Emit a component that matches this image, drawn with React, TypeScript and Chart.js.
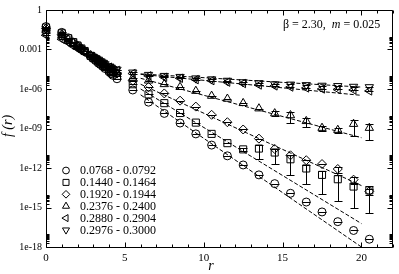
import React, { useEffect, useRef } from 'react';
import { Chart, registerables } from 'chart.js';
import { drawPoint } from 'chart.js/helpers';

Chart.register(...registerables);

// ---- data ----
const R_NEAR = [0, 1, 1.41, 1.73, 2, 2.24, 2.45, 2.83, 3, 3.16, 3.32, 3.46, 3.61, 3.74, 4, 4.12, 4.24, 4.5];
const R_FAR = [5.5, 6.5, 7.5, 8.5, 9.5, 10.5, 11.5, 12.5, 13.5, 14.5, 15.5, 16.5, 17.5, 18.5, 19.5, 20.5];

const C_NEAR = [5.5e-2, 2.0e-2, 7.7e-3, 3.6e-3, 2.0e-3, 1.1e-3, 7.1e-4, 3.0e-4, 2.0e-4, 1.4e-4, 9.2e-5, 7.1e-5, 5.1e-5, 3.6e-5, 2.0e-5, 1.5e-5, 1.1e-5, 6.0e-6];
const C_FAR = [8.4e-7, 1.0e-7, 1.4e-8, 2.6e-9, 3.9e-10, 5.5e-11, 8.4e-12, 1.7e-12, 3.0e-13, 6.5e-14, 1.2e-14, 2.6e-15, 4.6e-16, 8.4e-17, 1.8e-17, 3.9e-18];
const C_ERR = [0, 0, 0, 0, 0, 0, 0, 0, 0, 0, 0, 0, 0, 0, 0, 0];

const S_NEAR = [4.6e-2, 1.7e-2, 7.1e-3, 3.6e-3, 2.0e-3, 1.2e-3, 7.7e-4, 3.3e-4, 2.3e-4, 1.7e-4, 1.2e-4, 8.4e-5, 6.0e-5, 4.6e-5, 2.6e-5, 2.0e-5, 1.5e-5, 1.0e-5];
const S_FAR = [2.3e-6, 3.9e-7, 8.4e-8, 1.5e-8, 2.8e-9, 3.9e-10, 7.7e-11, 2.6e-11, 3.0e-11, 1.5e-11, 4.6e-12, 9.2e-13, 3.0e-13, 1.4e-13, 3.9e-14, 2.0e-14];
const S_ERR = [0, 0, 0, 0, 0, 0, 0, 5e-12, 2.5e-11, 1.3e-11, 4.3e-12, 8.6e-13, 2.9e-13, 1.37e-13, 3.8e-14, 1.96e-14];

const D_NEAR = [3.9e-2, 1.4e-2, 6.0e-3, 3.3e-3, 1.8e-3, 1.2e-3, 7.7e-4, 3.6e-4, 2.6e-4, 1.8e-4, 1.3e-4, 1.0e-4, 7.1e-5, 5.5e-5, 3.3e-5, 2.6e-5, 2.0e-5, 1.5e-5];
const D_FAR = [4.3e-6, 1.4e-6, 4.6e-7, 1.3e-7, 4.6e-8, 1.1e-8, 3.0e-9, 8.4e-10, 1.7e-10, 2.8e-11, 9.2e-12, 3.9e-12, 2.0e-12, 8.4e-13, 1.3e-13, 1.7e-14];
const D_ERR = [0, 0, 0, 0, 0, 0, 0, 0, 0, 0, 0, 0, 0, 4.2e-13, 6.5e-14, 8.5e-15];

const T_NEAR = [2.8e-2, 1.2e-2, 5.5e-3, 3.0e-3, 1.8e-3, 1.2e-3, 7.7e-4, 3.6e-4, 2.6e-4, 2.0e-4, 1.4e-4, 1.1e-4, 8.4e-5, 6.5e-5, 3.9e-5, 3.0e-5, 2.6e-5, 2.0e-5];
const T_FAR = [7.1e-6, 4.3e-6, 2.3e-6, 1.4e-6, 7.1e-7, 3.0e-7, 1.8e-7, 8.4e-8, 3.3e-8, 1.4e-8, 1.0e-8, 3.6e-9, 1.1e-9, 7.7e-10, 2.2e-9, 1.1e-9];
const T_ERR = [0, 0, 0, 0, 0, 0, 0, 0, 0, 5.6e-9, 7.4e-9, 2.3e-9, 4.5e-10, 3.1e-10, 1.92e-9, 9.6e-10];

const L_NEAR = [1.2e-2, 6.0e-3, 3.3e-3, 1.8e-3, 1.2e-3, 7.7e-4, 5.5e-4, 3.0e-4, 2.3e-4, 1.8e-4, 1.4e-4, 1.1e-4, 8.4e-5, 7.1e-5, 4.6e-5, 3.9e-5, 3.0e-5, 2.6e-5];
const L_FAR = [1.5e-5, 1.0e-5, 7.7e-6, 6.5e-6, 5.1e-6, 4.3e-6, 3.3e-6, 2.6e-6, 2.0e-6, 1.7e-6, 1.4e-6, 1.2e-6, 1.0e-6, 9.2e-7, 8.4e-7, 7.1e-7];
const L_ERR = [0, 0, 0, 0, 0, 0, 0, 0, 0, 0, 0, 0, 0, 0, 0, 0];

const V_NEAR = [1.7e-2, 8.4e-3, 4.3e-3, 2.3e-3, 1.5e-3, 1.0e-3, 7.1e-4, 3.9e-4, 2.8e-4, 2.2e-4, 1.7e-4, 1.3e-4, 1.0e-4, 7.7e-5, 5.1e-5, 4.3e-5, 3.3e-5, 3.0e-5];
const V_FAR = [1.8e-5, 1.2e-5, 1.0e-5, 8.4e-6, 6.5e-6, 5.5e-6, 4.3e-6, 3.3e-6, 2.8e-6, 2.3e-6, 2.2e-6, 2.0e-6, 1.8e-6, 1.7e-6, 1.5e-6, 1.4e-6];
const V_ERR = [0, 0, 0, 0, 0, 0, 0, 0, 0, 0, 0, 0, 0, 0, 0, 0];

const FIT_R = [6, 20];
const FIT_C = [3.6e-7, 1.0e-18];
const FIT_S = [1.0e-6, 6.0e-17];
const FIT_D = [2.3e-6, 4.6e-14];
const FIT_T = [6.5e-6, 2.0e-10];
const FIT_L = [1.3e-5, 3.3e-7];
const FIT_V = [1.4e-5, 1.4e-6];

const LEGEND_LABELS = [
  '0.0768 - 0.0792',
  '0.1440 - 0.1464',
  '0.1920 - 0.1944',
  '0.2376 - 0.2400',
  '0.2880 - 0.2904',
  '0.2976 - 0.3000',
];

const X_TICKS = [0, 5, 10, 15, 20];
const Y_TICKS = [1e-18, 1e-15, 1e-12, 1e-9, 1e-6, 1e-3, 1];
const Y_TICK_LABELS = ['1e-18', '1e-15', '1e-12', '1e-09', '1e-06', '0.001', '1'];

const SERIF = "'Liberation Serif', 'DejaVu Serif', serif";

const R_ALL = [...R_NEAR, ...R_FAR];

const SERIES = [
  { near: C_NEAR, far: C_FAR, err: C_ERR, fit: FIT_C, style: 'circle', rot: 0, rad: 4 },
  { near: S_NEAR, far: S_FAR, err: S_ERR, fit: FIT_S, style: 'rect', rot: 0, rad: 5 },
  { near: D_NEAR, far: D_FAR, err: D_ERR, fit: FIT_D, style: 'rectRot', rot: 0, rad: 4.5 },
  { near: T_NEAR, far: T_FAR, err: T_ERR, fit: FIT_T, style: 'triangle', rot: 0, rad: 4.8 },
  { near: L_NEAR, far: L_FAR, err: L_ERR, fit: FIT_L, style: 'triangle', rot: -90, rad: 4.8 },
  { near: V_NEAR, far: V_FAR, err: V_ERR, fit: FIT_V, style: 'triangle', rot: 180, rad: 4.8 },
];

const framePlugin = {
  id: 'frameTicks',
  beforeDatasetsDraw(chart: any) {
    const { ctx, chartArea: a, scales } = chart;
    const xs = scales.x;
    const ys = scales.y;
    ctx.save();
    ctx.strokeStyle = '#000';
    ctx.lineWidth = 1;
    const L = Math.round(a.left) + 0.5;
    const Rr = Math.round(a.right) - 0.5;
    const T = Math.round(a.top) + 0.5;
    const B = Math.round(a.bottom) + 0.5;
    ctx.beginPath();
    ctx.rect(L, T, Rr - L, B - T);
    ctx.stroke();
    ctx.beginPath();
    for (let v = 0; v <= 22; v++) {
      const len = v % 5 === 0 ? 5 : 3;
      const x = Math.round(xs.getPixelForValue(v)) + 0.5;
      ctx.moveTo(x, B);
      ctx.lineTo(x, B - len);
      ctx.moveTo(x, T);
      ctx.lineTo(x, T + len);
    }
    for (const v of Y_TICKS) {
      const y = Math.round(ys.getPixelForValue(v)) + 0.5;
      ctx.moveTo(L, y);
      ctx.lineTo(L + 5, y);
      ctx.moveTo(Rr, y);
      ctx.lineTo(Rr - 5, y);
      if (v < 1) {
        for (let k = 2; k <= 9; k++) {
          const ym = Math.round(ys.getPixelForValue(v * k)) + 0.5;
          ctx.moveTo(L, ym);
          ctx.lineTo(L + 3, ym);
          ctx.moveTo(Rr, ym);
          ctx.lineTo(Rr - 3, ym);
        }
      }
    }
    ctx.stroke();
    ctx.restore();
  },
};

const errorPlugin = {
  id: 'errorBars',
  afterDatasetsDraw(chart: any) {
    const { ctx } = chart;
    const ys = chart.scales.y;
    ctx.save();
    ctx.strokeStyle = '#000';
    ctx.lineWidth = 1;
    chart.data.datasets.forEach((ds: any, di: number) => {
      if (!ds.errors) return;
      const meta = chart.getDatasetMeta(di);
      meta.data.forEach((pt: any, i: number) => {
        const f = ds.data[i].y;
        const s = ds.errors[i] || 0;
        const x = Math.round(pt.x) + 0.5;
        const hw = 4;
        ctx.beginPath();
        if (s <= 0) {
          const y = Math.round(ys.getPixelForValue(f)) + 0.5;
          ctx.moveTo(x - hw, y);
          ctx.lineTo(x + hw, y);
        } else {
          const yh = Math.round(ys.getPixelForValue(f + s)) + 0.5;
          const yl = Math.round(ys.getPixelForValue(f - s)) + 0.5;
          ctx.moveTo(x, yh);
          ctx.lineTo(x, yl);
          ctx.moveTo(x - hw, yh);
          ctx.lineTo(x + hw, yh);
          ctx.moveTo(x - hw, yl);
          ctx.lineTo(x + hw, yl);
        }
        ctx.stroke();
      });
    });
    ctx.restore();
  },
};

const textPlugin = {
  id: 'texts',
  afterDraw(chart: any) {
    const { ctx } = chart;
    ctx.save();
    ctx.fillStyle = '#000';
    // annotation
    ctx.textBaseline = 'alphabetic';
    ctx.textAlign = 'left';
    let x = 283;
    const by = 27.5;
    ctx.font = `12px ${SERIF}`;
    const p1 = '\u03B2 = 2.30,  ';
    ctx.fillText(p1, x, by);
    x += ctx.measureText(p1).width;
    ctx.font = `italic 12px ${SERIF}`;
    ctx.fillText('m', x, by);
    x += ctx.measureText('m').width;
    ctx.font = `12px ${SERIF}`;
    ctx.fillText(' = 0.025', x, by);

    // axis titles
    ctx.font = `italic 14px ${SERIF}`;
    ctx.textAlign = 'center';
    ctx.fillText('r', 211, 270);
    ctx.save();
    ctx.translate(12, 126);
    ctx.rotate(-Math.PI / 2);
    ctx.textBaseline = 'alphabetic';
    ctx.fillText('f (r)', 0, 0);
    ctx.restore();

    // legend
    ctx.font = `12px ${SERIF}`;
    ctx.textAlign = 'left';
    ctx.textBaseline = 'middle';
    ctx.strokeStyle = '#000';
    ctx.lineWidth = 1;
    SERIES.forEach((s, i) => {
      const yy = 170.5 + i * 11.9;
      ctx.fillStyle = 'rgba(0,0,0,0)';
      drawPoint(
        ctx,
        { pointStyle: s.style, radius: s.rad * 0.85, rotation: s.rot, borderWidth: 1 } as any,
        66,
        yy
      );
      ctx.fillStyle = '#000';
      ctx.fillText(LEGEND_LABELS[i], 80, yy + 0.5);
    });
    ctx.restore();
  },
};

export default function App() {
  const ref = useRef<HTMLCanvasElement>(null);
  useEffect(() => {
    if (!ref.current) return;
    const datasets: any[] = [];
    SERIES.forEach((s, i) => {
      const vals = [...s.near, ...s.far];
      const errs = [...s.near.map(() => 0), ...s.err];
      datasets.push({
        type: 'scatter',
        label: LEGEND_LABELS[i],
        data: R_ALL.map((r, j) => ({ x: r, y: vals[j] })),
        errors: errs,
        pointStyle: s.style,
        pointRotation: s.rot,
        pointRadius: s.rad,
        pointBorderWidth: 1,
        borderColor: '#000',
        backgroundColor: 'rgba(0,0,0,0)',
        showLine: false,
        clip: false,
      });
      datasets.push({
        type: 'line',
        label: 'fit' + i,
        data: FIT_R.map((r, j) => ({ x: r, y: s.fit[j] })),
        borderColor: '#000',
        borderWidth: 1,
        borderDash: [4, 2],
        pointRadius: 0,
        fill: false,
        tension: 0,
      });
    });
    const chart = new Chart(ref.current, {
      type: 'scatter',
      data: { datasets },
      plugins: [framePlugin, errorPlugin, textPlugin],
      options: {
        animation: false,
        responsive: false,
        devicePixelRatio: 1,
        layout: { padding: { left: 0, top: 4, right: 3, bottom: 0 } },
        plugins: { legend: { display: false }, tooltip: { enabled: false } },
        scales: {
          x: {
            type: 'linear',
            min: 0,
            max: 22,
            afterBuildTicks: (s: any) => {
              s.ticks = X_TICKS.map((v) => ({ value: v }));
            },
            afterFit: (s: any) => {
              s.height = 27;
            },
            grid: { display: false, drawTicks: false },
            border: { display: false },
            ticks: {
              color: '#000',
              padding: 5,
              maxRotation: 0,
              autoSkip: false,
              font: { family: SERIF, size: 11 },
              callback: (v: any) => String(v),
            },
          },
          y: {
            type: 'logarithmic',
            min: 1e-18,
            max: 1,
            afterBuildTicks: (s: any) => {
              s.ticks = Y_TICKS.map((v) => ({ value: v }));
            },
            afterFit: (s: any) => {
              s.width = 46;
            },
            grid: { display: false, drawTicks: false },
            border: { display: false },
            ticks: {
              color: '#000',
              padding: 4,
              autoSkip: false,
              font: { family: SERIF, size: 10 },
              callback: (_v: any, idx: number) => Y_TICK_LABELS[idx],
            },
          },
        },
      } as any,
    });
    return () => chart.destroy();
  }, []);
  return (
    <div style={{ position: 'absolute', left: 0, top: 0, width: 399, height: 274, background: '#fff' }}>
      <canvas ref={ref} width={399} height={274} style={{ display: 'block', width: 399, height: 274 }} />
    </div>
  );
}
